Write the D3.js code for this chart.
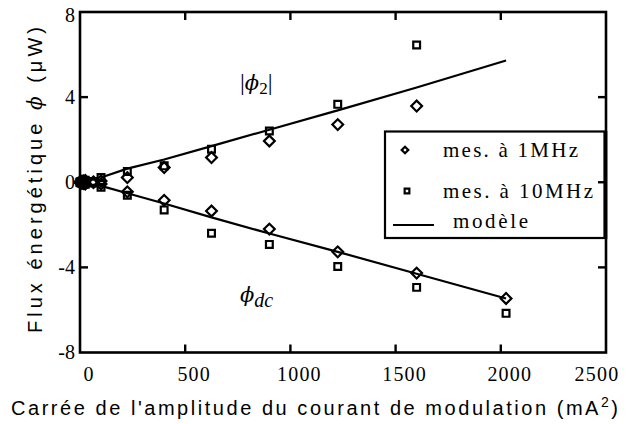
<!DOCTYPE html>
<html>
<head>
<meta charset="utf-8">
<script src="https://cdn.jsdelivr.net/npm/d3@7"></script>
<style>
  body { margin: 0; background: #fff; }
  svg { display: block; }
  .serif { font-family: "Liberation Serif", "DejaVu Serif", serif; }
  .sans { font-family: "Liberation Sans", Arial, sans-serif; }
  .phi { font-family: "DejaVu Serif", serif; font-style: italic; }
</style>
</head>
<body>
<svg width="629" height="424"></svg>
<script>
// squared modulation current (mA^2)
var current2 = [0, 4, 9, 16, 25, 64, 100, 225, 400, 625, 900, 1225, 1600, 2025];

// measured |phi2| and phi_dc (uW), null = not measured
var phi2_1MHz   = [0, 0.03, 0.05, 0.06, 0.08, 0.02, 0.06, 0.22, 0.69, 1.16, 1.94, 2.71, 3.58, null];
var phi2_10MHz  = [0, 0.03, 0.05, 0.08, 0.1, 0.04, 0.22, 0.5, 0.77, 1.55, 2.41, 3.66, 6.45, null];
var phiDc_1MHz  = [0, -0.03, -0.05, -0.06, -0.08, -0.02, -0.08, -0.45, -0.85, -1.35, -2.2, -3.27, -4.27, -5.46];
var phiDc_10MHz = [0, -0.03, -0.05, -0.08, -0.1, -0.04, -0.24, -0.61, -1.3, -2.4, -2.92, -3.96, -4.94, -6.16];

// model curves
var modelX     = [100, 225, 400, 625, 900, 1225, 1600, 2025];
var modelPhi2  = [0.22, 0.64, 1.07, 1.7, 2.47, 3.38, 4.45, 5.72];
var modelPhiDc = [-0.17, -0.52, -1.0, -1.65, -2.41, -3.27, -4.3, -5.46];

var xTicks = [0, 500, 1000, 1500, 2000, 2500];
var yTicks = [-8, -4, 0, 4, 8];
var legendLabels = ["mes. à 1MHz", "mes. à 10MHz", "modèle"];

var svg = d3.select("svg");

var x = d3.scaleLinear().domain([0, 2500]).range([80, 606]);
var y = d3.scaleLinear().domain([-8, 8]).range([352.5, 12]);

var g = svg.append("g");

//frame
g.append("rect")
    .attr("x", x(0)).attr("y", y(8))
    .attr("width", x(2500) - x(0)).attr("height", y(-8) - y(8))
    .attr("fill", "none").attr("stroke", "#000").attr("stroke-width", 2.6);

//inward ticks on all four sides
var tl = 8;
var innerX = xTicks.slice(1, -1), innerY = yTicks.slice(1, -1);
innerX.forEach(function (v) {
    g.append("line").attr("x1", x(v)).attr("x2", x(v)).attr("y1", y(-8)).attr("y2", y(-8) - tl)
        .attr("stroke", "#000").attr("stroke-width", 2.4);
    g.append("line").attr("x1", x(v)).attr("x2", x(v)).attr("y1", y(8)).attr("y2", y(8) + tl)
        .attr("stroke", "#000").attr("stroke-width", 2.4);
});
innerY.forEach(function (v) {
    g.append("line").attr("x1", x(0)).attr("x2", x(0) + tl).attr("y1", y(v)).attr("y2", y(v))
        .attr("stroke", "#000").attr("stroke-width", 2.4);
});

//tick labels
g.selectAll(".xl").data(xTicks).enter().append("text")
    .attr("class", "serif")
    .attr("x", function (d, i) { return i === xTicks.length - 1 ? x(d) - 9 : x(d) + 9; })
    .attr("y", 380.5)
    .attr("text-anchor", "middle")
    .attr("font-size", 20).attr("letter-spacing", 1.2)
    .text(function (d) { return d; });

g.selectAll(".yl").data(yTicks).enter().append("text")
    .attr("class", "serif")
    .attr("x", 75)
    .attr("y", function (d) { return d === 8 ? y(d) + 10 : y(d) + 6.5; })
    .attr("text-anchor", "end")
    .attr("font-size", 20)
    .text(function (d) { return d; });

//axis titles
var xt = g.append("text")
    .attr("class", "sans")
    .attr("x", 11).attr("y", 415)
    .attr("textLength", 607).attr("lengthAdjust", "spacing")
    .attr("font-size", 20);
xt.append("tspan").text("Carrée de l'amplitude du courant de modulation (mA");
xt.append("tspan").attr("dy", -8).attr("font-size", 14).text("2");
xt.append("tspan").attr("dy", 8).text(")");

var yt = g.append("text")
    .attr("class", "sans")
    .attr("transform", "translate(42,180) rotate(-90)")
    .attr("text-anchor", "middle")
    .attr("textLength", 306).attr("lengthAdjust", "spacing")
    .attr("font-size", 20);
yt.append("tspan").text("Flux énergétique ");
yt.append("tspan").attr("class", "phi").text("ϕ");
yt.append("tspan").text(" (μW)");

//model lines
var line = d3.line()
    .x(function (d) { return x(d[0]); })
    .y(function (d) { return y(d[1]); });

[modelPhi2, modelPhiDc].forEach(function (vals) {
    g.append("path")
        .datum(d3.zip(modelX, vals))
        .attr("d", line)
        .attr("fill", "none").attr("stroke", "#000").attr("stroke-width", 2.2);
});

//markers
var diamond = d3.symbol().type(d3.symbolSquare).size(58);
var square = d3.symbol().type(d3.symbolSquare).size(46);

function drawPoints(vals, sym, rot) {
    var pts = d3.zip(current2, vals).filter(function (d) { return d[1] !== null; });
    g.append("g").selectAll("path").data(pts).enter().append("path")
        .attr("d", sym)
        .attr("transform", function (d) {
            return "translate(" + x(d[0]) + "," + y(d[1]) + ")" + (rot ? " rotate(45)" : "");
        })
        .attr("fill", "none").attr("stroke", "#000").attr("stroke-width", 2.2);
}
drawPoints(phi2_10MHz, square, false);
drawPoints(phiDc_10MHz, square, false);
drawPoints(phi2_1MHz, diamond, true);
drawPoints(phiDc_1MHz, diamond, true);

//annotations
var a1 = g.append("text").attr("class", "serif").attr("x", 240).attr("y", 90)
    .attr("font-size", 24);
a1.append("tspan").text("|");
a1.append("tspan").attr("class", "phi").attr("font-size", 21).text("ϕ");
a1.append("tspan").attr("dy", 4).attr("font-size", 17).text("2");
a1.append("tspan").attr("dy", -4).text("|");

var a2 = g.append("text").attr("class", "serif").attr("x", 240).attr("y", 302)
    .attr("font-size", 24);
a2.append("tspan").attr("class", "phi").attr("font-size", 21).text("ϕ");
a2.append("tspan").attr("dy", 5).attr("font-style", "italic").attr("font-size", 20).text("dc");

//legend
var leg = g.append("g");
leg.append("rect")
    .attr("x", 385).attr("y", 131.5).attr("width", 219.5).attr("height", 106.5)
    .attr("fill", "#fff").attr("stroke", "#000").attr("stroke-width", 2.2);
leg.append("path").attr("d", d3.symbol().type(d3.symbolSquare).size(22))
    .attr("transform", "translate(405,150) rotate(45)")
    .attr("fill", "none").attr("stroke", "#000").attr("stroke-width", 2.2);
leg.append("path").attr("d", d3.symbol().type(d3.symbolSquare).size(22))
    .attr("transform", "translate(407,191)")
    .attr("fill", "none").attr("stroke", "#000").attr("stroke-width", 2.2);
leg.append("line").attr("x1", 393).attr("x2", 434).attr("y1", 225).attr("y2", 225)
    .attr("stroke", "#000").attr("stroke-width", 2.2);

var legPos = [[443, 157, 135], [443, 197.5, 150], [453, 228, 75]];
leg.selectAll("text").data(legendLabels).enter().append("text")
    .attr("class", "serif")
    .attr("x", function (d, i) { return legPos[i][0]; })
    .attr("y", function (d, i) { return legPos[i][1]; })
    .attr("textLength", function (d, i) { return legPos[i][2]; })
    .attr("lengthAdjust", "spacing")
    .attr("font-size", 21)
    .text(function (d) { return d; });

//right-side ticks drawn last so they cross the legend like the original
innerY.forEach(function (v) {
    g.append("line").attr("x1", x(2500)).attr("x2", x(2500) - tl).attr("y1", y(v)).attr("y2", y(v))
        .attr("stroke", "#000").attr("stroke-width", 2.4);
});
g.append("line").attr("x1", x(2500)).attr("x2", x(2500)).attr("y1", 131).attr("y2", 239)
    .attr("stroke", "#000").attr("stroke-width", 2.6);
</script>
</body>
</html>
